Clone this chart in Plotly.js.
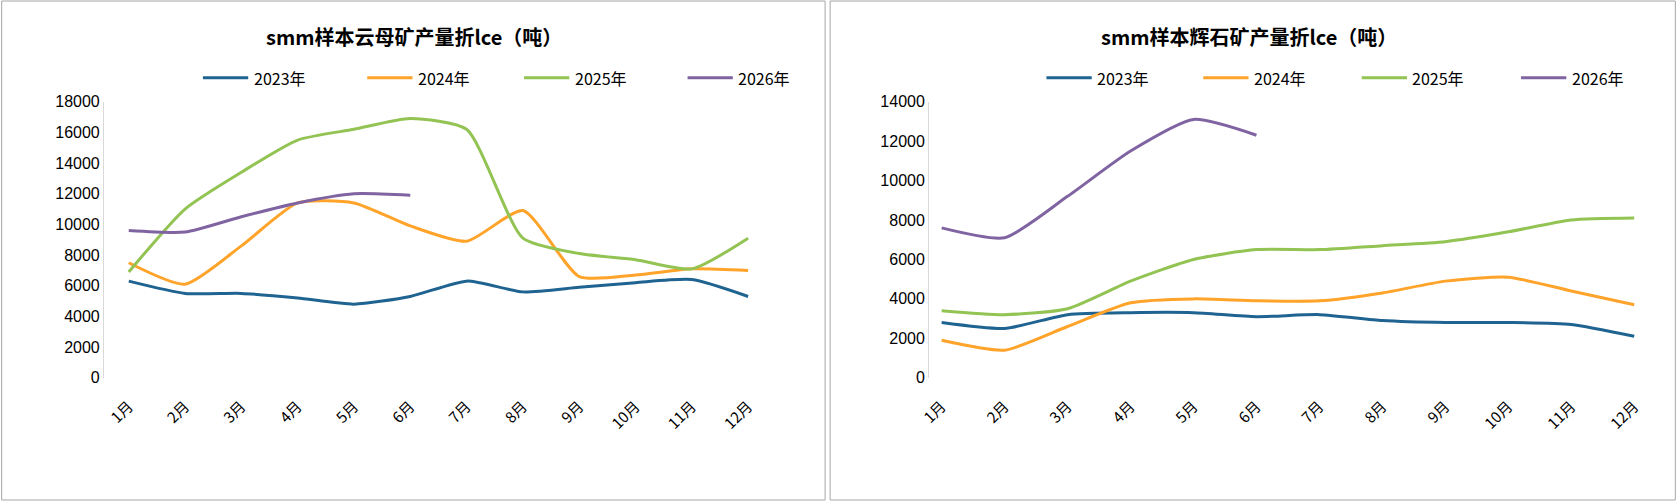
<!DOCTYPE html>
<html><head><meta charset="utf-8">
<script src="https://cdn.plot.ly/plotly-3.0.1.min.js"></script>
<style>body{margin:0;background:#fff}#chart{width:1677px;height:501px}</style>
</head><body><div id="chart"></div>
<script>
// month categories
const months = ['1月','2月','3月','4月','5月','6月','7月','8月','9月','10月','11月','12月'];

// lepidolite (mica) output, tonnes LCE
const mica2023 = [6300, 5500, 5500, 5200, 4800, 5300, 6300, 5600, 5900, 6200, 6400, 5300];
const mica2024 = [7500, 6100, 8600, 11400, 11400, 9900, 8900, 10900, 6600, 6700, 7100, 7000];
const mica2025 = [6900, 11000, 13400, 15500, 16200, 16900, 16200, 9100, 8100, 7700, 7100, 9100];
const mica2026 = [9600, 9500, 10500, 11400, 12000, 11900];

// spodumene output, tonnes LCE
const spod2023 = [2800, 2500, 3200, 3300, 3300, 3100, 3200, 2900, 2800, 2800, 2700, 2100];
const spod2024 = [1900, 1400, 2600, 3800, 4000, 3900, 3900, 4300, 4900, 5100, 4400, 3700];
const spod2025 = [3400, 3200, 3500, 4900, 6000, 6500, 6500, 6700, 6900, 7400, 8000, 8100];
const spod2026 = [7600, 7100, 9200, 11500, 13100, 12300];

const yearNames = ['2023年', '2024年', '2025年', '2026年'];
const colors = ['#1f6391', '#ffa32a', '#92c353', '#8064a2'];

function makeTraces(series, xa, ya) {
    return series.map((y, i) => ({
        x: months.slice(0, y.length),
        y: y,
        name: yearNames[i],
        type: 'scatter',
        mode: 'lines',
        line: { color: colors[i], width: 3, shape: 'spline', smoothing: 0.6 },
        xaxis: xa,
        yaxis: ya
    }));
}

const traces = [
    ...makeTraces([mica2023, mica2024, mica2025, mica2026], 'x', 'y'),
    ...makeTraces([spod2023, spod2024, spod2025, spod2026], 'x2', 'y2')
];

const axisFont = { family: 'Liberation Sans, Arial', size: 16, color: '#000' };
const xBase = {
    type: 'category', categoryarray: months, tickangle: -45,
    showgrid: false, zeroline: false, showline: false, ticks: '',
    ticklabelstandoff: 16,
    tickfont: { family: 'Noto Sans CJK SC', size: 15, color: '#000' }
};
const yBase = {
    showgrid: false, zeroline: false, showline: true, linecolor: '#d9d9d9', linewidth: 1,
    tickfont: axisFont, ticks: '', tickformat: 'd'
};

// legend entries drawn as annotations + shapes per panel
const annotations = [
    { text: '<b>smm样本云母矿产量折lce（吨）</b>', xref: 'paper', yref: 'paper', x: 0.247, y: 0.928,
      xanchor: 'center', yanchor: 'middle',
      showarrow: false, font: { family: 'Noto Sans CJK SC', size: 20, color: '#000' } },
    { text: '<b>smm样本辉石矿产量折lce（吨）</b>', xref: 'paper', yref: 'paper', x: 0.745, y: 0.928,
      xanchor: 'center', yanchor: 'middle',
      showarrow: false, font: { family: 'Noto Sans CJK SC', size: 20, color: '#000' } }
];
const shapes = [
    { type: 'rect', xref: 'paper', yref: 'paper', x0: 0.001, x1: 0.492, y0: 0.002, y1: 0.998, line: { color: '#a6a6a6', width: 1 } },
    { type: 'rect', xref: 'paper', yref: 'paper', x0: 0.495, x1: 0.999, y0: 0.002, y1: 0.998, line: { color: '#a6a6a6', width: 1 } }
];
const legendLeft = [0.121, 0.219, 0.3125, 0.410];
const legendRight = [0.624, 0.7175, 0.812, 0.907];
[legendLeft, legendRight].forEach(pos => {
    pos.forEach((x, i) => {
        shapes.push({ type: 'line', xref: 'paper', yref: 'paper', x0: x, x1: x + 0.027, y0: 0.845, y1: 0.845,
            line: { color: colors[i], width: 3 } });
        annotations.push({ text: yearNames[i], xref: 'paper', yref: 'paper', x: x + 0.029, y: 0.845,
            xanchor: 'left', yanchor: 'middle',
            showarrow: false, font: { family: 'Noto Sans CJK SC', size: 16, color: '#000' } });
    });
});

const layout = {
    width: 1677, height: 501,
    margin: { l: 0, r: 0, t: 0, b: 0 },
    paper_bgcolor: '#fff', plot_bgcolor: '#fff',
    showlegend: false,
    xaxis: Object.assign({}, xBase, { domain: [0.062, 0.478], range: [-0.44, 11.95], anchor: 'y' }),
    yaxis: Object.assign({}, yBase, { domain: [0.246, 0.797], range: [0, 18000], dtick: 2000, anchor: 'x' }),
    xaxis2: Object.assign({}, xBase, { domain: [0.554, 0.982], range: [-0.2, 11.2], anchor: 'y2' }),
    yaxis2: Object.assign({}, yBase, { domain: [0.246, 0.797], range: [0, 14000], dtick: 2000, anchor: 'x2' }),
    annotations: annotations,
    shapes: shapes
};

Plotly.newPlot('chart', traces, layout, { displayModeBar: false, staticPlot: true });
</script></body></html>
